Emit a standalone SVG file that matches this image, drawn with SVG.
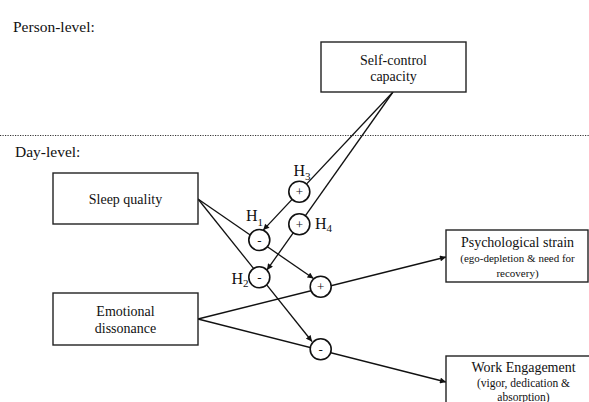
<svg xmlns="http://www.w3.org/2000/svg" width="589" height="402" viewBox="0 0 589 402">
<defs>
<style>
text{font-family:"Liberation Serif","Times New Roman",serif;fill:#111}
.box{fill:#fff;stroke:#222;stroke-width:1.4}
.lvl{font-size:15.5px}
.lbl{font-size:14px;text-anchor:middle}
.sub{font-size:11.5px;text-anchor:middle}
.con{stroke:#111;stroke-width:1.3;fill:none}
.arr{marker-end:url(#ah)}
.mod{fill:#fff;stroke:#111;stroke-width:1.6}
.sign{font-size:13px;text-anchor:middle}
.h{font-size:16px}
</style>
<marker id="ah" viewBox="0 0 10 10" refX="10" refY="5" markerWidth="7" markerHeight="6" markerUnits="userSpaceOnUse" orient="auto">
<path d="M0,0 L10,5 L0,10 z" fill="#111"/>
</marker>
</defs>
<rect width="589" height="402" fill="#fff"/>
<text class="lvl" x="13" y="32">Person-level:</text>
<line x1="0" y1="135.5" x2="589" y2="135.5" stroke="#333" stroke-width="1" stroke-dasharray="1.2 1.3"/>
<text class="lvl" x="15" y="157">Day-level:</text>

<g id="connectors">
<line class="con arr" x1="393" y1="92" x2="263.2" y2="230.1"/>
<line class="con arr" x1="393" y1="92" x2="267" y2="269.9"/>
<line class="con arr" x1="198" y1="199" x2="313.5" y2="278.5"/>
<line class="con arr" x1="198" y1="199" x2="312" y2="341.5"/>
<line class="con arr" x1="198" y1="319" x2="446" y2="257"/>
<line class="con arr" x1="198" y1="319" x2="446" y2="382"/>
</g>

<g id="selfcontrol">
<rect class="box" x="321" y="42" width="145" height="50"/>
<text class="lbl" x="393.5" y="65">Self-control</text>
<text class="lbl" x="393.5" y="81">capacity</text>
</g>
<g id="sleep">
<rect class="box" x="53" y="173" width="145" height="51"/>
<text class="lbl" x="125.5" y="204">Sleep quality</text>
</g>
<g id="dissonance">
<rect class="box" x="53" y="293" width="145" height="52"/>
<text class="lbl" x="125.5" y="316">Emotional</text>
<text class="lbl" x="125.5" y="332.5">dissonance</text>
</g>
<g id="strain">
<rect class="box" x="446" y="230" width="142" height="52"/>
<text class="lbl" x="517.5" y="247">Psychological  strain</text>
<text class="sub" style="font-size:11px" x="517.5" y="262">(ego-depletion &amp; need for</text>
<text class="sub" style="font-size:11px" x="517.5" y="276.5">recovery)</text>
</g>
<g id="engagement">
<rect class="box" x="446" y="356" width="156" height="60"/>
<text class="lbl" x="523.5" y="372">Work Engagement</text>
<text class="sub" x="523.5" y="386.5">(vigor, dedication &amp;</text>
<text class="sub" x="523.5" y="401">absorption)</text>
</g>

<g id="H3">
<circle class="mod" cx="299.3" cy="191.7" r="10.5"/>
<text class="sign" x="299.3" y="196.2">+</text>
<text class="h" x="293.5" y="175.5">H<tspan font-size="11" dy="4">3</tspan></text>
</g>
<g id="H4">
<circle class="mod" cx="299.3" cy="224.3" r="10.5"/>
<text class="sign" x="299.3" y="228.8">+</text>
<text class="h" x="315" y="229">H<tspan font-size="11" dy="3">4</tspan></text>
</g>
<g id="H1">
<circle class="mod" cx="259.3" cy="240" r="10.5"/>
<text class="sign" x="259.3" y="244.5">-</text>
<text class="h" x="246" y="220.5">H<tspan font-size="11" dy="5">1</tspan></text>
</g>
<g id="H2">
<circle class="mod" cx="259.3" cy="277.3" r="10.5"/>
<text class="sign" x="259.3" y="281.8">-</text>
<text class="h" x="231.5" y="283.5">H<tspan font-size="11" dy="3">2</tspan></text>
</g>
<g id="plus">
<circle class="mod" cx="320.7" cy="286.7" r="10.5"/>
<text class="sign" x="320.7" y="291.2">+</text>
</g>
<g id="minus">
<circle class="mod" cx="320.7" cy="349.3" r="10.5"/>
<text class="sign" x="320.7" y="353.8">-</text>
</g>
</svg>
